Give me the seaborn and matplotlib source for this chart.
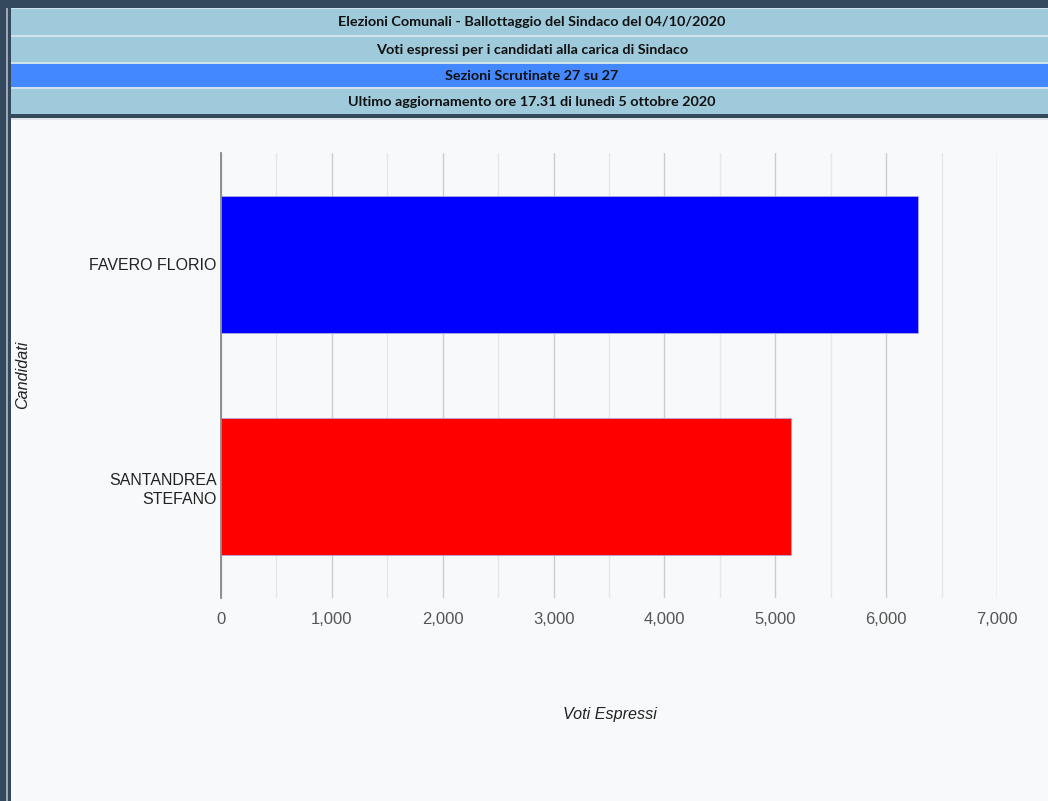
import pandas as pd
import seaborn as sns
import matplotlib.pyplot as plt
from matplotlib.patches import Rectangle
from matplotlib.ticker import MultipleLocator, FuncFormatter

# data
candidati = ['FAVERO FLORIO', 'SANTANDREA\nSTEFANO']
voti = [6285, 5142]
colori = ['#0000ff', '#ff0000']

header_righe = [
    'Elezioni Comunali - Ballottaggio del Sindaco del 04/10/2020',
    'Voti espressi per i candidati alla carica di Sindaco',
    'Sezioni Scrutinate 27 su 27',
    'Ultimo aggiornamento ore 17.31 di lunedì 5 ottobre 2020',
]
header_colori = ['#9fcadb', '#9fcadb', '#4488ff', '#9fcadb']

df = pd.DataFrame({'Candidati': candidati, 'Voti': voti})

sns.set_style('white')
plt.rcParams['font.family'] = ['Liberation Sans', 'DejaVu Sans']

W, H = 1048, 801
fig = plt.figure(figsize=(W / 100, H / 100), dpi=100)
fig.patch.set_facecolor('#f8f9fa')


def px_rect(x0, y0, x1, y1, color):
    # rectangle in pixel coords (top-left origin)
    fig.add_artist(Rectangle((x0 / W, 1 - y1 / H), (x1 - x0) / W, (y1 - y0) / H,
                             transform=fig.transFigure, color=color, lw=0, zorder=0))


# frame and header
px_rect(0, 0, W, 8, '#34495e')
px_rect(0, 0, 11, H, '#34495e')
px_rect(6, 8, 8, H, '#9aa9b6')
px_rect(11, 8, W, 117, '#cfe3ea')
righe_y = [(9, 35), (37, 62), (64, 87), (89, 114)]
for (y0, y1), testo, col in zip(righe_y, header_righe, header_colori):
    px_rect(11, y0, W, y1, col)
    fig.text(532 / W, 1 - (y0 + y1) / 2 / H, testo, ha='center', va='center',
             fontsize=10.4, fontweight='bold', family=['Lato', 'DejaVu Sans'], color='#111111')
px_rect(11, 114, W, 118, '#34495e')
px_rect(11, 118, W, 120, '#dfe3e7')

# chart
x0, x1, ytop, ybot = 221, 997, 153, 598
ax = fig.add_axes([x0 / W, 1 - ybot / H, (x1 - x0) / W, (ybot - ytop) / H])
ax.set_facecolor('#f8f9fa')

sns.barplot(data=df, x='Voti', y='Candidati', hue='Candidati', palette=colori,
            orient='h', width=0.616, legend=False, ax=ax,
            edgecolor='#b0a8e0', linewidth=0.6, saturation=1, zorder=3)

ax.set_xlim(0, 7000)
ax.set_ylim(1.5, -0.5)
ax.xaxis.set_major_locator(MultipleLocator(1000))
ax.xaxis.set_minor_locator(MultipleLocator(500))
ax.xaxis.set_major_formatter(FuncFormatter(lambda v, p: f'{int(v):,}'))
ax.grid(which='major', axis='x', color='#cccccc', lw=1, zorder=0)
ax.grid(which='minor', axis='x', color='#e6e6e6', lw=1, zorder=0)
ax.set_axisbelow(True)

for s in ['top', 'right', 'bottom']:
    ax.spines[s].set_visible(False)
ax.spines['left'].set_color('#888888')
ax.spines['left'].set_linewidth(1.3)
ax.spines['left'].set_zorder(4)

ax.tick_params(axis='x', which='both', length=0, labelsize=12, labelcolor='#555555', pad=10)
ax.tick_params(axis='y', which='both', length=0, labelsize=11.5, labelcolor='#222222', pad=3)
for lbl in ax.get_yticklabels():
    lbl.set_multialignment('right')
    lbl.set_linespacing(1.35)

ax.set_xlabel('Voti Espressi', fontsize=11.6, style='italic', color='#222222')
ax.set_ylabel('Candidati', fontsize=11.6, style='italic', color='#222222')
ax.xaxis.set_label_coords((610 - x0) / (x1 - x0), (ybot - 715) / (ybot - ytop))
ax.xaxis.label.set_va('center')
ax.yaxis.set_label_coords((23 - x0) / (x1 - x0), (ybot - 375) / (ybot - ytop))
ax.yaxis.label.set_va('center')

fig.savefig('out.png', dpi=100, facecolor=fig.get_facecolor())
